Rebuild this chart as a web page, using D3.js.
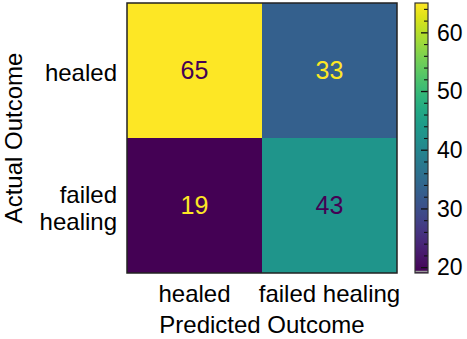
<!DOCTYPE html>
<html>
<head>
<meta charset="utf-8">
<script src="https://cdn.jsdelivr.net/npm/d3@7"></script>
<style>
  body { margin: 0; background: #fff; }
  text { font-family: "Liberation Sans", Arial, Helvetica, sans-serif; fill: #000; }
</style>
</head>
<body>
<div id="chart"></div>
<script>
// confusion matrix: rows = actual, cols = predicted
const actualLabels = [["healed"], ["failed", "healing"]];
const predictedLabels = ["healed", "failed healing"];
const counts = [
  [65, 33],
  [19, 43]
];
const colorbarTicks = [20, 30, 40, 50, 60];

const width = 467, height = 339;
const plot = { left: 127, top: 3, size: 270 };
const cbar = { left: 415, width: 13 };

const svg = d3.select('#chart').append('svg')
  .attr('width', width)
  .attr('height', height);

const flat = counts.flat();
const vmin = d3.min(flat), vmax = d3.max(flat);
const color = d3.scaleSequential(d3.interpolateViridis).domain([vmin, vmax]);

const x = d3.scaleBand().domain(d3.range(predictedLabels.length))
  .range([plot.left, plot.left + plot.size]);
const y = d3.scaleBand().domain(d3.range(actualLabels.length))
  .range([plot.top, plot.top + plot.size]);

const cells = [];
counts.forEach((row, i) => row.forEach((v, j) => cells.push({ i, j, v })));

svg.append('g').selectAll('rect')
  .data(cells)
  .enter().append('rect')
    .attr('x', d => x(d.j))
    .attr('y', d => y(d.i))
    .attr('width', x.bandwidth())
    .attr('height', y.bandwidth())
    .attr('fill', d => color(d.v));

// text colour flips at the middle of the range like matplotlib does
const mid = (vmin + vmax) / 2;
svg.append('g').selectAll('text')
  .data(cells)
  .enter().append('text')
    .attr('x', d => x(d.j) + x.bandwidth() / 2)
    .attr('y', d => y(d.i) + y.bandwidth() / 2)
    .attr('dy', '0.34em')
    .attr('text-anchor', 'middle')
    .style('font-size', '25px')
    .style('fill', d => d.v < mid ? color(vmax) : color(vmin))
    .text(d => d.v);

svg.append('rect')
  .attr('x', plot.left).attr('y', plot.top)
  .attr('width', plot.size).attr('height', plot.size)
  .attr('fill', 'none')
  .attr('stroke', '#222')
  .attr('stroke-width', 1.5);

// x tick labels
svg.append('g').selectAll('text')
  .data(predictedLabels)
  .enter().append('text')
    .attr('x', (d, j) => x(j) + x.bandwidth() / 2)
    .attr('y', 302)
    .attr('text-anchor', 'middle')
    .style('font-size', '24px')
    .text(d => d);

// y tick labels (multi-line)
const yl = svg.append('g').selectAll('text')
  .data(actualLabels)
  .enter().append('text')
    .attr('text-anchor', 'end')
    .style('font-size', '24px')
    .attr('transform', (d, i) => `translate(117, ${y(i) + y.bandwidth() / 2 + 2})`);
yl.selectAll('tspan')
  .data(d => d.map((t, k) => ({ t, k, n: d.length })))
  .enter().append('tspan')
    .attr('x', 0)
    .attr('y', d => (d.k - (d.n - 1) / 2) * 27)
    .attr('dy', '0.36em')
    .text(d => d.t);

svg.append('text')
  .attr('x', plot.left + plot.size / 2)
  .attr('y', 333)
  .attr('text-anchor', 'middle')
  .style('font-size', '24px')
  .text('Predicted Outcome');

svg.append('text')
  .attr('transform', `translate(22, ${plot.top + plot.size / 2}) rotate(-90)`)
  .attr('text-anchor', 'middle')
  .style('font-size', '24px')
  .text('Actual Outcome');

// colorbar
const cy = d3.scaleLinear().domain([vmin, vmax]).range([plot.top + plot.size, plot.top]);
const defs = svg.append('defs');
const grad = defs.append('linearGradient')
  .attr('id', 'cbgrad')
  .attr('x1', 0).attr('y1', 1).attr('x2', 0).attr('y2', 0);
d3.range(0, 1.0001, 0.05).forEach(t => {
  grad.append('stop')
    .attr('offset', t)
    .attr('stop-color', d3.interpolateViridis(t));
});
svg.append('rect')
  .attr('x', cbar.left).attr('y', plot.top)
  .attr('width', cbar.width).attr('height', plot.size)
  .attr('fill', 'url(#cbgrad)');
svg.append('line')
  .attr('x1', cbar.left).attr('x2', cbar.left + cbar.width)
  .attr('y1', plot.top + plot.size - 1.5).attr('y2', plot.top + plot.size - 1.5)
  .attr('stroke', '#999').attr('stroke-width', 1.5);

const cbAxis = d3.axisLeft(cy)
  .tickValues(colorbarTicks)
  .tickSize(7)
  .tickFormat('');
svg.append('g')
  .attr('transform', `translate(${cbar.left + cbar.width},0)`)
  .call(cbAxis)
  .call(g => g.select('.domain').remove())
  .call(g => g.selectAll('line').attr('stroke', '#111').attr('stroke-width', 1.3));

const minorTicks = d3.range(22, vmax, 2).filter(v => v % 10 !== 0);
svg.append('g')
  .attr('transform', `translate(${cbar.left + cbar.width},0)`)
  .call(d3.axisLeft(cy).tickValues(minorTicks).tickSize(4).tickFormat(''))
  .call(g => g.select('.domain').remove())
  .call(g => g.selectAll('line').attr('stroke', '#111').attr('stroke-width', 1.1));

svg.append('g').selectAll('text')
  .data(colorbarTicks)
  .enter().append('text')
    .attr('x', 437)
    .attr('y', d => cy(d))
    .attr('dy', '0.36em')
    .style('font-size', '23px')
    .text(d => d);

svg.append('rect')
  .attr('x', cbar.left).attr('y', plot.top)
  .attr('width', cbar.width).attr('height', plot.size)
  .attr('fill', 'none')
  .attr('stroke', '#333')
  .attr('stroke-width', 1.2);
</script>
</body>
</html>
